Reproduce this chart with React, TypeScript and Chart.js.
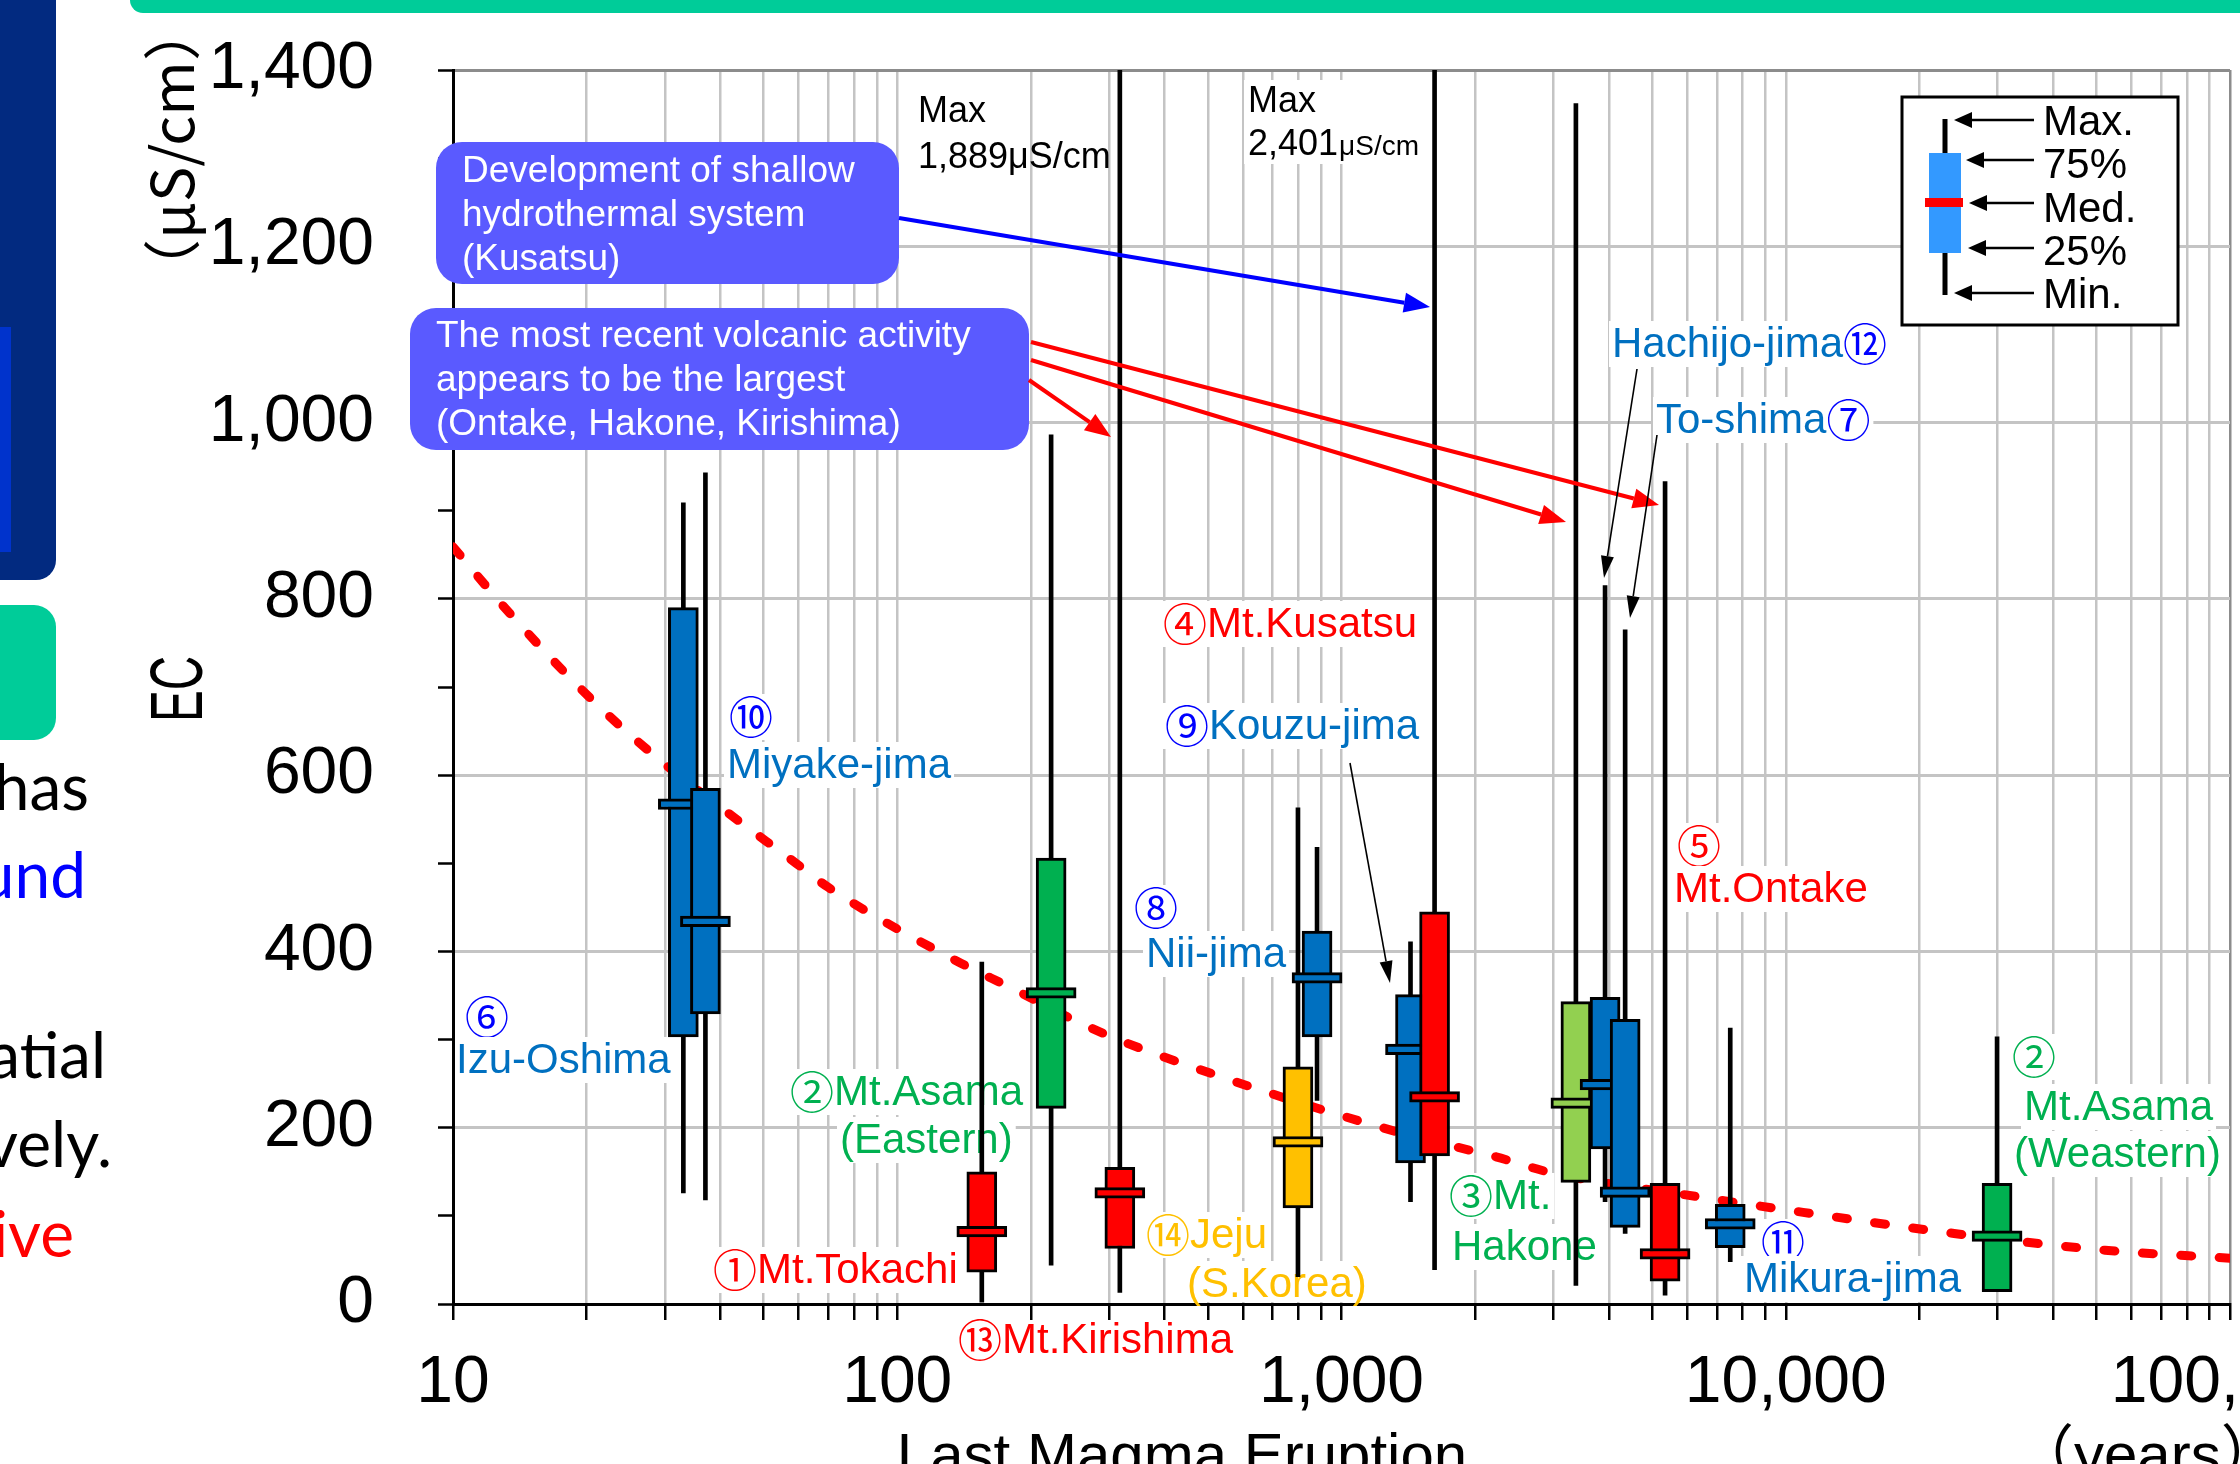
import React, { useEffect, useRef } from 'react';
import { Chart, registerables } from 'chart.js';

Chart.register(...registerables);

// ---------------- data ----------------
const volcanoNames = [
  'Izu-Oshima', 'Miyake-jima', 'Mt.Tokachi', 'Mt.Asama (Eastern)', 'Mt.Kirishima',
  'Jeju (S.Korea)', 'Nii-jima', 'Kouzu-jima', 'Mt.Kusatsu', 'Mt.Hakone',
  'Hachijo-jima', 'To-shima', 'Mt.Ontake', 'Mikura-jima', 'Mt.Asama (Weastern)',
];
const lastEruptionYears = [33, 37, 155, 222, 317, 798, 881, 1430, 1620, 3370, 3920, 4350, 5350, 7500, 29900];
const ecMin = [126, 118, 2, 44, 13, 31, 231, 116, 39, 21, 116, 80, 10, 48, 14];
const ecQ1 = [303, 329, 36, 222, 63, 109, 303, 160, 168, 138, 176, 87, 26, 64, 14];
const ecMedian = [567, 434, 82, 353, 126, 184, 370, 289, 235, 228, 249, 127, 57, 91, 77];
const ecQ3 = [790, 585, 150, 506, 155, 269, 423, 351, 445, 343, 348, 323, 137, 113, 137];
const ecMax = [909, 943, 388, 986, 1889, 563, 518, 411, 2401, 1362, 815, 765, 933, 313, 303];
const boxColors = [
  '#0070c0', '#0070c0', '#ff0000', '#00b050', '#ff0000',
  '#ffc000', '#0070c0', '#0070c0', '#ff0000', '#92d050',
  '#0070c0', '#0070c0', '#ff0000', '#0070c0', '#00b050',
];

const trendYears = [10, 13.4, 20.6, 29.7, 39.9, 59.2, 69.8, 135, 185, 241, 314, 506, 858, 1456, 2228, 2963, 6477, 10940, 23930, 52330, 100000];
const trendEC = [859, 784, 685, 614, 564, 500, 473, 390, 356, 326, 300, 262, 224, 190, 167, 149, 121, 104, 80, 61, 52];

const xMajorTicks = [10, 100, 1000, 10000, 100000];
const yMajorTicks = [0, 200, 400, 600, 800, 1000, 1200, 1400];
const yMinorTicks = [100, 300, 500, 700, 900, 1100, 1300];
const legendLabels = ['Max.', '75%', 'Med.', '25%', 'Min.'];

// ---------------- styles ----------------
const F = '"Liberation Sans", Arial, sans-serif';
const CJK = '"Noto Sans CJK JP", "Noto Sans CJK SC", sans-serif';
const LABEL_FONT = `42px ${F}`;
const CIRCLE_FONT = `44px ${CJK}`;
const BLUE_NUM = '#0000ff';
const BLUE_TXT = '#0070c0';
const RED = '#ff0000';
const GREEN = '#00b050';
const YELLOW = '#ffc000';
const GRID = '#c4c4c4';

const isCircled = (t: string) => /[\u2460-\u2473]/.test(t);

type Seg = [string, string];
const labelLines: Array<[number, number, Seg[]]> = [
  [465, 1030, [['⑥', BLUE_NUM]]],
  [456, 1073, [['Izu-Oshima', BLUE_TXT]]],
  [729, 730, [['⑩', BLUE_NUM]]],
  [727, 778, [['Miyake-jima', BLUE_TXT]]],
  [790, 1105, [['②', GREEN], ['Mt.Asama', GREEN]]],
  [840, 1153, [['(Eastern)', GREEN]]],
  [713, 1283, [['①', RED], ['Mt.Tokachi', RED]]],
  [958, 1353, [['⑬', RED], ['Mt.Kirishima', RED]]],
  [1146, 1248, [['⑭', YELLOW], ['Jeju', YELLOW]]],
  [1187, 1297, [['(S.Korea)', YELLOW]]],
  [1134, 921, [['⑧', BLUE_NUM]]],
  [1146, 967, [['Nii-jima', BLUE_TXT]]],
  [1163, 637, [['④', RED], ['Mt.Kusatsu', RED]]],
  [1165, 739, [['⑨', BLUE_NUM], ['Kouzu-jima', BLUE_TXT]]],
  [1677, 859, [['⑤', RED]]],
  [1674, 902, [['Mt.Ontake', RED]]],
  [1612, 357, [['Hachijo-jima', BLUE_TXT], ['⑫', BLUE_NUM]]],
  [1656, 433, [['To-shima', BLUE_TXT], ['⑦', BLUE_NUM]]],
  [1449, 1209, [['③', GREEN], ['Mt.', GREEN]]],
  [1452, 1260, [['Hakone', GREEN]]],
  [1761, 1255, [['⑪', BLUE_NUM]]],
  [1744, 1292, [['Mikura-jima', BLUE_TXT]]],
  [2012, 1070, [['②', GREEN]]],
  [2024, 1120, [['Mt.Asama', GREEN]]],
  [2014, 1167, [['(Weastern)', GREEN]]],
];

function rr(ctx: any, x: number, y: number, w: number, h: number, r: number) {
  ctx.beginPath();
  ctx.moveTo(x + r, y);
  ctx.arcTo(x + w, y, x + w, y + h, r);
  ctx.arcTo(x + w, y + h, x, y + h, r);
  ctx.arcTo(x, y + h, x, y, r);
  ctx.arcTo(x, y, x + w, y, r);
  ctx.closePath();
}

function arrow(ctx: any, x1: number, y1: number, x2: number, y2: number, color: string, width: number, headLen: number, headW: number) {
  const a = Math.atan2(y2 - y1, x2 - x1);
  const bx = x2 - headLen * Math.cos(a);
  const by = y2 - headLen * Math.sin(a);
  ctx.save();
  ctx.strokeStyle = color;
  ctx.lineWidth = width;
  ctx.beginPath();
  ctx.moveTo(x1, y1);
  ctx.lineTo(bx, by);
  ctx.stroke();
  ctx.fillStyle = color;
  ctx.beginPath();
  ctx.moveTo(x2, y2);
  ctx.lineTo(bx + (headW / 2) * Math.sin(a), by - (headW / 2) * Math.cos(a));
  ctx.lineTo(bx - (headW / 2) * Math.sin(a), by + (headW / 2) * Math.cos(a));
  ctx.closePath();
  ctx.fill();
  ctx.restore();
}

function drawLabelLine(ctx: any, x: number, base: number, segs: Seg[], area: any) {
  const widths = segs.map(([t]) => {
    ctx.font = isCircled(t) ? CIRCLE_FONT : LABEL_FONT;
    return ctx.measureText(t).width;
  });
  const total = widths.reduce((a, b) => a + b, 0);
  ctx.save();
  ctx.beginPath();
  ctx.rect(area.left + 3, area.top + 2, area.right - area.left - 5, area.bottom - area.top - 4);
  ctx.clip();
  ctx.fillStyle = '#ffffff';
  ctx.fillRect(x - 3, base - 36, total + 6, 46);
  ctx.restore();
  let cx = x;
  ctx.textBaseline = 'alphabetic';
  ctx.textAlign = 'left';
  segs.forEach(([t, c], i) => {
    ctx.font = isCircled(t) ? CIRCLE_FONT : LABEL_FONT;
    ctx.fillStyle = c;
    ctx.fillText(t, cx, isCircled(t) ? base + 4 : base);
    cx += widths[i];
  });
}

const decorPlugin = {
  id: 'decor',
  beforeDraw(chart: any) {
    const ctx = chart.ctx;
    ctx.save();
    ctx.fillStyle = '#ffffff';
    ctx.fillRect(0, 0, chart.width, chart.height);
    // slide decorations
    ctx.fillStyle = '#00cc99';
    rr(ctx, 130, -40, 2200, 53, 13);
    ctx.fill();
    ctx.fillStyle = '#022a80';
    rr(ctx, -40, -40, 96, 620, 20);
    ctx.fill();
    ctx.fillStyle = '#0033cc';
    ctx.fillRect(0, 327, 11, 225);
    ctx.fillStyle = '#00cc99';
    rr(ctx, -40, 605, 96, 135, 22);
    ctx.fill();
    ctx.font = '64px Lato, "Open Sans", sans-serif';
    ctx.textAlign = 'right';
    ctx.textBaseline = 'alphabetic';
    const side: Array<[string, string, number, number]> = [
      ['has', '#000000', 89, 810],
      ['und', '#0000ff', 86, 898],
      ['atial', '#000000', 106, 1078],
      ['vely.', '#000000', 112, 1167],
      ['ive', '#ff0000', 74, 1257],
    ];
    side.forEach(([t, c, x, y]) => {
      ctx.fillStyle = c;
      ctx.fillText(t, x, y);
    });
    ctx.restore();
  },
  beforeDatasetsDraw(chart: any) {
    const ctx = chart.ctx;
    const area = chart.chartArea;
    ctx.save();
    // white background behind the max note
    ctx.fillStyle = '#ffffff';
    ctx.fillRect(1244, 80, 186, 84);
    labelLines.forEach(([x, b, segs]) => drawLabelLine(ctx, x, b, segs, area));
    ctx.restore();
  },
  afterDraw(chart: any) {
    const ctx = chart.ctx;
    ctx.save();
    // callouts
    ctx.fillStyle = '#5a5aff';
    rr(ctx, 436, 142, 463, 142, 26);
    ctx.fill();
    rr(ctx, 410, 308, 619, 142, 26);
    ctx.fill();
    ctx.fillStyle = '#ffffff';
    ctx.font = `37px ${F}`;
    ctx.textAlign = 'left';
    ctx.textBaseline = 'alphabetic';
    ['Development of shallow', 'hydrothermal system', '(Kusatsu)'].forEach((t, i) => ctx.fillText(t, 462, 182 + i * 44));
    ['The most recent volcanic activity', 'appears to be the largest', '(Ontake, Hakone, Kirishima)'].forEach((t, i) => ctx.fillText(t, 436, 347 + i * 44));

    // arrows
    arrow(ctx, 899, 218, 1430, 307, '#0000ff', 4, 26, 20);
    arrow(ctx, 1031, 342, 1659, 505, '#ff0000', 4, 26, 20);
    arrow(ctx, 1031, 360, 1566, 522, '#ff0000', 4, 26, 20);
    arrow(ctx, 1029, 380, 1111, 437, '#ff0000', 4, 26, 20);
    arrow(ctx, 1350, 763, 1390, 983, '#000000', 1.6, 22, 13);
    arrow(ctx, 1637, 369, 1604, 578, '#000000', 1.6, 22, 13);
    arrow(ctx, 1657, 435, 1630, 618, '#000000', 1.6, 22, 13);

    // max notes
    ctx.fillStyle = '#000000';
    ctx.font = `36px ${F}`;
    ctx.fillText('Max', 918, 122);
    ctx.fillText('1,889μS/cm', 918, 168);
    ctx.fillText('Max', 1248, 112);
    ctx.fillText('2,401', 1248, 155);
    const w2401 = ctx.measureText('2,401').width;
    ctx.font = `28px ${F}`;
    ctx.fillText('μS/cm', 1248 + w2401 + 1, 155);

    // legend box
    ctx.fillStyle = '#ffffff';
    ctx.fillRect(1902, 97, 276, 228);
    ctx.strokeStyle = '#000000';
    ctx.lineWidth = 3;
    ctx.strokeRect(1902, 97, 276, 228);
    ctx.lineWidth = 5;
    ctx.beginPath();
    ctx.moveTo(1945, 119);
    ctx.lineTo(1945, 295);
    ctx.stroke();
    ctx.fillStyle = '#3399ff';
    ctx.fillRect(1929, 153, 32, 100);
    ctx.fillStyle = '#ff0000';
    ctx.fillRect(1925, 198, 38, 9);
    const legendY = [120, 160, 203, 248, 293];
    const legendTipX = [1954, 1966, 1969, 1968, 1954];
    const legendBase = [135, 178, 222, 265, 308];
    legendLabels.forEach((t, i) => {
      arrow(ctx, 2034, legendY[i], legendTipX[i], legendY[i], '#000000', 2.5, 18, 16);
      ctx.fillStyle = '#000000';
      ctx.font = `42px ${F}`;
      ctx.fillText(t, 2043, legendBase[i]);
    });

    // axis titles
    ctx.fillStyle = '#000000';
    ctx.save();
    ctx.translate(181, 689);
    ctx.rotate(-Math.PI / 2);
    ctx.font = `75px ${F}`;
    ctx.textAlign = 'center';
    ctx.textBaseline = 'middle';
    const ecW = ctx.measureText('EC').width;
    ctx.scale(66 / ecW, 1);
    ctx.fillText('EC', 0, 0);
    ctx.restore();

    ctx.save();
    ctx.translate(172, 150);
    ctx.rotate(-Math.PI / 2);
    ctx.font = `58px ${CJK}`;
    ctx.textAlign = 'center';
    ctx.textBaseline = 'middle';
    const uW = ctx.measureText('（μS/cm）').width;
    ctx.scale(296 / uW, 1);
    ctx.fillText('（μS/cm）', 0, 0);
    ctx.restore();

    ctx.font = `60px ${F}`;
    ctx.textAlign = 'center';
    ctx.textBaseline = 'alphabetic';
    ctx.fillText('Last Magma Eruption', 1182, 1475);
    ctx.textAlign = 'left';
    ctx.font = `60px ${F}, ${CJK}`;
    ctx.fillText('（years）', 2014, 1475);
    ctx.restore();
  },
};

const isPow10 = (v: number) => {
  const l = Math.log10(v);
  return Math.abs(l - Math.round(l)) < 1e-9;
};

export default function App() {
  const ref = useRef<HTMLCanvasElement>(null);

  useEffect(() => {
    const datasets: any[] = [];
    datasets.push({
      type: 'line',
      label: 'Trend',
      data: trendYears.map((x, i) => ({ x, y: trendEC[i] })),
      borderColor: '#ff0000',
      borderWidth: 9,
      borderDash: [11, 27.5],
      borderCapStyle: 'round',
      pointRadius: 0,
      fill: false,
      cubicInterpolationMode: 'monotone',
      order: 5000,
    });
    volcanoNames.forEach((name, i) => {
      const x = lastEruptionYears[i];
      datasets.push({
        type: 'bar',
        label: name + ' min-max',
        data: [{ x, y: [ecMin[i], ecMax[i]] }],
        backgroundColor: '#000000',
        borderWidth: 0,
        barThickness: 4,
        grouped: false,
        order: 1000 - 3 * i,
      });
      datasets.push({
        type: 'bar',
        label: name + ' 25-75%',
        data: [{ x, y: [ecQ1[i], ecQ3[i]] }],
        backgroundColor: boxColors[i],
        borderColor: '#000000',
        borderWidth: 3,
        borderSkipped: false,
        barThickness: 30,
        grouped: false,
        order: 999 - 3 * i,
      });
      datasets.push({
        type: 'bar',
        label: name + ' median',
        data: [{ x, y: [ecMedian[i] - 6, ecMedian[i] + 6] }],
        backgroundColor: boxColors[i],
        borderColor: '#000000',
        borderWidth: 3,
        borderSkipped: false,
        barThickness: 50,
        grouped: false,
        order: 998 - 3 * i,
      });
    });

    const xTicks: number[] = [];
    for (let e = 1; e <= 4; e++) for (let m = 1; m <= 9; m++) xTicks.push(m * Math.pow(10, e));
    xTicks.push(xMajorTicks[xMajorTicks.length - 1]);
    const yTicks = [...yMajorTicks, ...yMinorTicks].sort((a, b) => a - b);

    const chart = new Chart(ref.current as HTMLCanvasElement, {
      type: 'bar',
      data: { datasets },
      plugins: [decorPlugin],
      options: {
        responsive: false,
        maintainAspectRatio: false,
        animation: false,
        devicePixelRatio: 1,
        events: [],
        layout: { padding: { top: 70, right: 10, left: 0, bottom: 0 } },
        plugins: { legend: { display: false }, tooltip: { enabled: false } },
        scales: {
          x: {
            type: 'logarithmic',
            min: 10,
            max: 100000,
            offset: false,
            afterBuildTicks: (scale: any) => {
              scale.ticks = xTicks.map((v) => ({ value: v, major: false }));
            },
            afterFit: (scale: any) => {
              scale.height = 160;
              scale.paddingLeft = 0;
              scale.paddingRight = 0;
              scale.paddingTop = 0;
              scale.paddingBottom = 0;
            },
            grid: {
              offset: false,
              color: (c: any) => (c.tick && c.tick.value === 100000 ? '#8c8c8c' : GRID),
              lineWidth: 2.5,
              tickColor: '#000000',
              tickWidth: 2.5,
              tickLength: 16,
            },
            border: { color: '#000000', width: 3 },
            ticks: {
              autoSkip: false,
              maxRotation: 0,
              minRotation: 0,
              padding: 24,
              color: '#000000',
              font: { family: '"Liberation Sans", Arial, sans-serif', size: 66 },
              callback: (v: any) => (isPow10(Number(v)) ? Number(v).toLocaleString('en-US') : ''),
            },
          } as any,
          y: {
            type: 'linear',
            min: 0,
            max: 1400,
            afterBuildTicks: (scale: any) => {
              scale.ticks = yTicks.map((v) => ({ value: v }));
            },
            afterFit: (scale: any) => {
              scale.width = 453;
              scale.paddingTop = 0;
              scale.paddingBottom = 0;
              scale.paddingLeft = 0;
              scale.paddingRight = 0;
            },
            grid: {
              color: (c: any) => {
                if (!c.tick) return GRID;
                if (c.tick.value === 1400) return '#8c8c8c';
                return yMajorTicks.includes(c.tick.value) ? GRID : 'rgba(0,0,0,0)';
              },
              lineWidth: 3,
              tickColor: '#000000',
              tickWidth: 2.5,
              tickLength: 15,
            },
            border: { color: '#000000', width: 3 },
            ticks: {
              autoSkip: false,
              padding: 64,
              color: '#000000',
              font: { family: '"Liberation Sans", Arial, sans-serif', size: 66 },
              callback: (v: any) => (yMajorTicks.includes(Number(v)) ? Number(v).toLocaleString('en-US') : ''),
            },
          } as any,
        },
      } as any,
    });
    return () => chart.destroy();
  }, []);

  return (
    <canvas
      ref={ref}
      width={2240}
      height={1464}
      style={{ position: 'fixed', left: 0, top: 0, width: 2240, height: 1464, display: 'block' }}
    />
  );
}
